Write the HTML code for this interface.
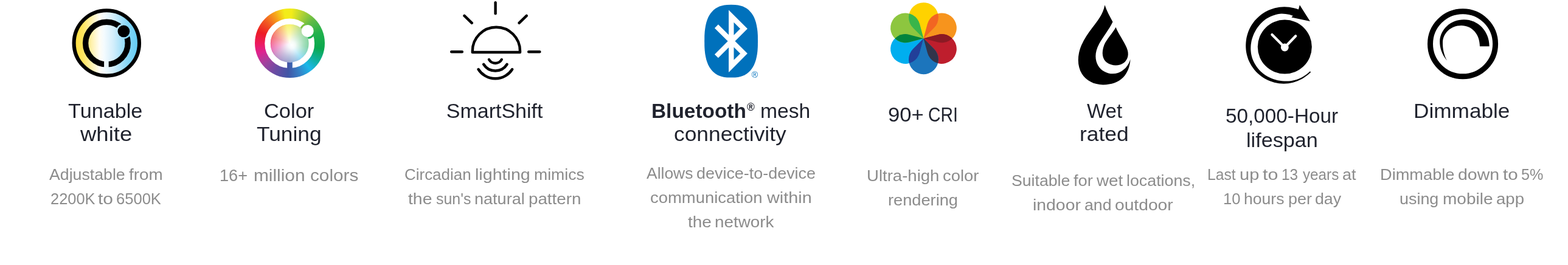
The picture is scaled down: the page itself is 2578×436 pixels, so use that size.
<!DOCTYPE html>
<html lang="en"><head><meta charset="utf-8"><title>Features</title><style>

html,body{margin:0;padding:0;background:#fff;}
body{width:2578px;height:436px;position:relative;overflow:hidden;font-family:"Liberation Sans",sans-serif;}
svg{position:absolute;left:0;top:0;}
main{position:absolute;left:0;top:0;width:2578px;height:436px;will-change:transform;}
section,h3,p,.ic{margin:0;padding:0;font-weight:400;font-size:0;line-height:0;}
.ln{position:absolute;left:0;display:block;white-space:nowrap;font-size:0;line-height:0;}
.l{display:inline-block;white-space:nowrap;line-height:1;transform-origin:0 0;font-weight:400;vertical-align:baseline;}
.t{font-size:34px;color:#1f222d;}
.d{font-size:26px;color:#8c8c8c;}

</style></head><body>
<div id="wheel" style="position:absolute;left:419px;top:13.6px;width:114.5px;height:114.5px;border-radius:50%;background:conic-gradient(from 0deg,#f3ec19 0deg,#f3ec19 3deg,#b4d334 22deg,#62bb46 45deg,#22b14c 70deg,#0aa84f 100deg,#0fb09a 122deg,#1ab7ea 142deg,#3681c6 162deg,#4156a6 183deg,#6b4ca3 208deg,#a4419d 232deg,#dd2390 252deg,#ec1b62 268deg,#ed1c24 290deg,#f15a22 312deg,#f7a11a 332deg,#f3ec19 350deg,#f3ec19 360deg);"></div>
<div id="wheelin" style="position:absolute;left:444.7px;top:39.9px;width:63px;height:63px;border-radius:50%;background:radial-gradient(circle at 55% 54%,rgba(255,255,255,1) 0%,rgba(255,255,255,0.95) 12%,rgba(255,255,255,0.64) 40%,rgba(255,255,255,0.36) 72%,rgba(255,255,255,0.1) 100%),conic-gradient(from 0deg,#f3ec19 0deg,#f3ec19 3deg,#b4d334 22deg,#62bb46 45deg,#22b14c 70deg,#0aa84f 100deg,#0fb09a 122deg,#1ab7ea 142deg,#3681c6 162deg,#4156a6 183deg,#6b4ca3 208deg,#a4419d 232deg,#dd2390 252deg,#ec1b62 268deg,#ed1c24 290deg,#f15a22 312deg,#f7a11a 332deg,#f3ec19 350deg,#f3ec19 360deg);"></div>
<svg width="2578" height="436" viewBox="0 0 2578 436">
<defs>
<linearGradient id="tw" x1="121" x2="230" y1="0" y2="0" gradientUnits="userSpaceOnUse">
 <stop offset="0" stop-color="#ffdd3c"/><stop offset="0.14" stop-color="#ffe55e"/><stop offset="0.39" stop-color="#fffdf4"/><stop offset="0.46" stop-color="#f4fbfe"/><stop offset="0.6" stop-color="#d3eefb"/><stop offset="0.8" stop-color="#8ad8f7"/><stop offset="1" stop-color="#5ac9f4"/>
</linearGradient>
<mask id="m1" maskUnits="userSpaceOnUse" x="100" y="0" width="150" height="140">
 <rect x="100" y="0" width="150" height="140" fill="#fff"/>
 <rect x="171.1" y="95" width="7.6" height="20" fill="#000"/>
 <circle cx="203.4" cy="51.4" r="12.5" fill="#000"/>
</mask>
<mask id="m2" maskUnits="userSpaceOnUse" x="400" y="0" width="150" height="140">
 <rect x="400" y="0" width="150" height="140" fill="#fff"/>
 <rect x="472.1" y="98" width="8.7" height="20" fill="#000"/>
 <circle cx="505.7" cy="50.9" r="13.1" fill="#000"/>
</mask>
<clipPath id="p0"><path d="M1518.45 63.20L1501.15 45.81A24.4 24.4 0 1 1 1535.75 45.81Z"/></clipPath>
<clipPath id="p1"><path d="M1518.45 63.20L1524.86 39.52A24.4 24.4 0 1 1 1542.16 69.49Z"/></clipPath>
<clipPath id="p2"><path d="M1518.45 63.20L1542.16 56.91A24.4 24.4 0 1 1 1524.86 86.88Z"/></clipPath>
<clipPath id="p3"><path d="M1518.45 63.20L1535.75 80.59A24.4 24.4 0 1 1 1501.15 80.59Z"/></clipPath>
<clipPath id="p4"><path d="M1518.45 63.20L1512.04 86.88A24.4 24.4 0 1 1 1494.74 56.91Z"/></clipPath>
<clipPath id="p5"><path d="M1518.45 63.20L1494.74 69.49A24.4 24.4 0 1 1 1512.04 39.52Z"/></clipPath>
</defs>
<!-- icon 1: tunable white -->
<g id="i1">
<circle cx="175.3" cy="70.9" r="53.7" fill="url(#tw)" stroke="#000" stroke-width="6.1"/>
<circle cx="175.4" cy="71.1" r="34.8" fill="none" stroke="#000" stroke-width="9.4" mask="url(#m1)"/>
<circle cx="203.4" cy="51.4" r="9.9" fill="#000"/>
</g>
<!-- icon 2: color tuning -->
<g id="i2">
<circle cx="476.2" cy="71.4" r="36.15" fill="none" stroke="#fff" stroke-width="9.5" mask="url(#m2)"/>
<circle cx="505.7" cy="50.9" r="10" fill="#fff"/>
</g>
<!-- icon 3: smartshift -->
<g id="i3" fill="none" stroke="#000" stroke-width="4.4" stroke-linecap="round" stroke-linejoin="round">
<path d="M814.6 4.2V22.3"/>
<path d="M763.45 25.95L775.8 37.8"/>
<path d="M865.8 25.95L853.45 37.8"/>
<path d="M742.2 85.3H759.8"/>
<path d="M869.2 85.3H887.3"/>
<path d="M776.8 86V84A39.1 39.25 0 0 1 855 84V86Z"/>
<path d="M804 98A12 12 0 0 0 824.75 98"/>
<path d="M795.1 105.75A22.7 22.7 0 0 0 833.65 105.75"/>
<path d="M786.5 114A33 33 0 0 0 842.2 114"/>
</g>
<!-- icon 4: bluetooth -->
<g id="i4">
<path d="M1246.0 67.7L1245.9 76.9L1245.5 83.3L1244.8 88.9L1243.9 93.9L1242.8 98.6L1241.4 102.8L1239.8 106.8L1237.9 110.3L1235.7 113.6L1233.3 116.5L1230.7 119.1L1227.9 121.3L1224.7 123.2L1221.3 124.8L1217.6 126.0L1213.5 126.9L1208.8 127.4L1202.1 127.6L1195.4 127.4L1190.7 126.9L1186.6 126.0L1182.9 124.8L1179.5 123.2L1176.3 121.3L1173.5 119.1L1170.9 116.5L1168.5 113.6L1166.3 110.3L1164.4 106.8L1162.8 102.8L1161.4 98.6L1160.3 93.9L1159.4 88.9L1158.7 83.3L1158.3 76.9L1158.2 67.7L1158.3 58.5L1158.7 52.1L1159.4 46.5L1160.3 41.5L1161.4 36.8L1162.8 32.6L1164.4 28.6L1166.3 25.1L1168.5 21.8L1170.9 18.9L1173.5 16.3L1176.3 14.1L1179.5 12.2L1182.9 10.6L1186.6 9.4L1190.7 8.5L1195.4 8.0L1202.1 7.8L1208.8 8.0L1213.5 8.5L1217.6 9.4L1221.3 10.6L1224.7 12.2L1227.9 14.1L1230.7 16.3L1233.3 18.9L1235.7 21.8L1237.9 25.1L1239.8 28.6L1241.4 32.6L1242.8 36.8L1243.9 41.5L1244.8 46.5L1245.5 52.1L1245.9 58.5Z" fill="#0071bc"/>
<path d="M1177.9 43.2L1223 88.1L1202.3 108.8V26.6L1223 47.3L1177.9 92.4" fill="none" stroke="#fff" stroke-width="8.4" stroke-linejoin="miter" stroke-miterlimit="6"/>
</g>
<!-- icon 5: CRI flower -->
<g id="i5">
<path d="M1518.45 63.20L1501.15 45.81A24.4 24.4 0 1 1 1535.75 45.81Z" fill="#ffd200"/>
<path d="M1518.45 63.20L1524.86 39.52A24.4 24.4 0 1 1 1542.16 69.49Z" fill="#f7941d"/>
<path d="M1518.45 63.20L1542.16 56.91A24.4 24.4 0 1 1 1524.86 86.88Z" fill="#be1e2d"/>
<path d="M1518.45 63.20L1535.75 80.59A24.4 24.4 0 1 1 1501.15 80.59Z" fill="#1c75bc"/>
<path d="M1518.45 63.20L1512.04 86.88A24.4 24.4 0 1 1 1494.74 56.91Z" fill="#00aeef"/>
<path d="M1518.45 63.20L1494.74 69.49A24.4 24.4 0 1 1 1512.04 39.52Z" fill="#8dc63f"/>
<path d="M1518.45 63.20L1501.15 45.81A24.4 24.4 0 1 1 1535.75 45.81Z" fill="#f26522" clip-path="url(#p1)"/>
<path d="M1518.45 63.20L1524.86 39.52A24.4 24.4 0 1 1 1542.16 69.49Z" fill="#8b1a24" clip-path="url(#p2)"/>
<path d="M1518.45 63.20L1542.16 56.91A24.4 24.4 0 1 1 1524.86 86.88Z" fill="#33344a" clip-path="url(#p3)"/>
<path d="M1518.45 63.20L1535.75 80.59A24.4 24.4 0 1 1 1501.15 80.59Z" fill="#223f99" clip-path="url(#p4)"/>
<path d="M1518.45 63.20L1512.04 86.88A24.4 24.4 0 1 1 1494.74 56.91Z" fill="#00843d" clip-path="url(#p5)"/>
<path d="M1518.45 63.20L1494.74 69.49A24.4 24.4 0 1 1 1512.04 39.52Z" fill="#39b54a" clip-path="url(#p0)"/>
</g>
<!-- icon 6: drop -->
<g id="i6">
<path d="M1816.4 8.3C1813.5 24 1804 35 1795.8 45.8C1787 57.5 1777 72 1774 87.1C1771.3 100 1773 112 1778.8 121.6C1786 133 1799 139.6 1814 139.4C1827 139.3 1838.5 135.5 1846.5 127.5C1853.5 120.5 1857.8 109.5 1858.5 97.5C1855.5 108 1848 116.5 1838 120C1826 124 1812 119 1805.5 108C1800 98.5 1799.5 86 1807.2 71.9C1813 61.5 1823.5 48.5 1829.5 36C1824.5 27 1819.5 17.5 1816.4 8.3Z" fill="#000"/>
<path d="M1834.5 44.7C1838.5 55 1848 68 1852.4 78.4C1857 89 1854.5 98 1847.5 103.5C1840 109 1828 108.8 1820 103C1812.5 97.5 1810.5 87 1815.4 74C1819.5 64 1829.5 54.5 1834.5 44.7Z" fill="#000"/>
</g>
<!-- icon 7: clock -->
<g id="i7">
<circle cx="2112.3" cy="77.1" r="44.5" fill="#000"/>
<path d="M2134.9 15.5L2131.2 14.2L2127.3 13.2L2123.5 12.4L2119.6 11.8L2115.6 11.4L2111.7 11.3L2107.7 11.4L2103.8 11.8L2099.9 12.4L2096.0 13.3L2092.2 14.4L2088.5 15.7L2084.8 17.3L2081.3 19.1L2077.9 21.1L2074.6 23.3L2071.4 25.8L2068.4 28.4L2065.6 31.2L2062.9 34.1L2060.5 37.3L2058.2 40.5L2056.1 44.0L2054.3 47.5L2052.7 51.2L2051.4 54.9L2050.3 58.7L2049.4 62.6L2048.8 66.5L2048.4 70.5L2048.2 74.5L2048.3 78.5L2048.6 82.4L2049.2 86.4L2050.0 90.3L2051.1 94.1L2052.4 97.9L2054.0 101.5L2055.8 105.1L2057.8 108.5L2060.1 111.8L2062.5 114.9L2065.1 117.9L2067.9 120.7L2070.9 123.3L2074.0 125.7L2077.3 127.9L2080.7 129.9L2084.2 131.7L2087.8 133.3L2091.5 134.6L2095.2 135.7L2099.0 136.6L2102.9 137.2L2106.8 137.6L2110.7 137.7L2114.6 137.6L2118.5 137.2L2122.3 136.6L2126.0 135.7L2129.7 134.6L2133.4 133.2L2136.9 131.6L2140.3 129.9L2143.5 127.9L2146.7 125.8L2149.8 123.5L2152.7 121.1L2155.4 118.4L2153.6 117.4L2151.0 119.9L2148.2 122.2L2145.3 124.3L2142.3 126.2L2139.1 128.0L2135.8 129.5L2132.5 130.7L2129.0 131.8L2125.5 132.6L2122.0 133.2L2118.4 133.5L2114.9 133.6L2111.3 133.5L2107.8 133.2L2104.3 132.8L2100.8 132.2L2097.4 131.3L2094.0 130.3L2090.7 129.1L2087.4 127.6L2084.3 126.0L2081.3 124.2L2078.4 122.2L2075.6 120.0L2073.0 117.7L2070.5 115.2L2068.2 112.5L2066.1 109.7L2064.2 106.8L2062.4 103.8L2060.9 100.7L2059.5 97.5L2058.4 94.2L2057.5 90.8L2056.9 87.4L2056.5 84.0L2056.3 80.6L2056.4 77.1L2056.6 73.8L2057.1 70.4L2057.7 67.1L2058.5 63.9L2059.6 60.7L2060.8 57.6L2062.1 54.6L2063.6 51.7L2065.2 48.8L2067.0 46.1L2068.9 43.4L2070.9 40.9L2073.1 38.5L2075.4 36.2L2077.9 34.1L2080.4 32.1L2083.1 30.3L2085.9 28.7L2088.8 27.2L2091.8 26.0L2094.8 24.9L2097.9 24.0L2101.0 23.3L2104.2 22.8L2107.4 22.6L2110.6 22.7L2113.8 23.0L2116.9 23.5L2120.0 24.1L2123.0 24.9L2125.9 26.0L2123.2 28.6L2153.9 35.0L2136.9 8.2Z" fill="#000"/>
<path d="M2091.4 57L2112.3 78L2130.2 59.3" fill="none" stroke="#fff" stroke-width="4.2" stroke-linecap="round" stroke-linejoin="round"/>
<circle cx="2112.3" cy="78" r="6.4" fill="#fff"/>
</g>
<!-- icon 8: dimmable -->
<g id="i8">
<circle cx="2405.05" cy="72.2" r="53.55" fill="none" stroke="#000" stroke-width="9"/>
<path d="M2379 99.8C2371 90 2367 79 2367.2 68C2368 48 2385 32.2 2407 32.2C2430 32.2 2448.7 51 2448.7 76.2H2433C2433 56 2420 42 2402.5 42C2385 42 2372 55 2372 70.4C2372 81 2374 90 2379 99.8Z" fill="#000"/>
</g>
</svg>

<main>
<section>
<h3><span class="ln" style="top:165px;"><span class="l t" style="margin-left:112.25px;transform:scaleX(1.0063);">Tunable</span></span> <span class="ln" style="top:203px;"><span class="l t" style="margin-left:132.00px;transform:scaleX(1.0740);">white</span></span></h3>
<p><span class="ln" style="top:274px;"><span class="l d" style="margin-left:81.00px;transform:scaleX(1.0270);">Adjustable</span> <span class="l d" style="margin-left:9.31px;transform:scaleX(1.0720);">from</span></span> <span class="ln" style="top:314px;"><span class="l d" style="margin-left:82.63px;transform:scaleX(0.9776);">2200K</span> <span class="l d" style="margin-left:3.51px;transform:scaleX(1.1500);">to</span> <span class="l d" style="margin-left:8.41px;transform:scaleX(0.9830);">6500K</span></span></p>
</section>
<section>
<h3><span class="ln" style="top:165px;"><span class="l t" style="margin-left:433.73px;transform:scaleX(1.0127);">Color</span></span> <span class="ln" style="top:203px;"><span class="l t" style="margin-left:422.22px;transform:scaleX(1.0376);">Tuning</span></span></h3>
<p><span class="ln" style="top:276px;"><span class="l" style="margin-left:361.39px;transform:scaleX(1.0071);font-size:27px;color:#8c8c8c;">16+</span> <span class="l" style="margin-left:9.47px;transform:scaleX(1.1041);font-size:27px;color:#8c8c8c;">million</span> <span class="l" style="margin-left:16.32px;transform:scaleX(1.1011);font-size:27px;color:#8c8c8c;">colors</span></span></p>
</section>
<section>
<h3><span class="ln" style="top:165px;"><span class="l t" style="margin-left:733.75px;transform:scaleX(1.0000);">SmartShift</span></span></h3>
<p><span class="ln" style="top:274px;"><span class="l d" style="margin-left:665.35px;transform:scaleX(0.9981);">Circadian</span> <span class="l d" style="margin-left:5.89px;transform:scaleX(1.1013);">lighting</span> <span class="l d" style="margin-left:14.73px;transform:scaleX(1.0249);">mimics</span></span> <span class="ln" style="top:314px;"><span class="l d" style="margin-left:671.46px;transform:scaleX(1.0899);">the</span> <span class="l d" style="margin-left:9.47px;transform:scaleX(0.9597);">sun's</span> <span class="l d" style="margin-left:3.31px;transform:scaleX(1.0408);">natural</span> <span class="l d" style="margin-left:9.55px;transform:scaleX(1.0671);">pattern</span></span></p>
</section>
<section>
<div class="ic"><span class="ln" style="top:116.1px;"><span class="l" style="margin-left:1235.85px;transform:scaleX(1.0000);font-size:14.1px;color:#0071bc;">®</span></span></div>
<h3><span class="ln" style="top:165px;"><span class="l t" style="margin-left:1070.54px;transform:scaleX(0.9825);font-weight:700;">Bluetooth</span><span class="l" style="margin-left:-1.53px;transform:scaleX(0.9920);font-size:17.5px;color:#1f222d;vertical-align:12.4px;font-weight:700;">®</span> <span class="l t" style="margin-left:9.71px;transform:scaleX(0.9905);">mesh</span></span> <span class="ln" style="top:203px;"><span class="l t" style="margin-left:1108.44px;transform:scaleX(1.0398);">connectivity</span></span></h3>
<p><span class="ln" style="top:272px;"><span class="l d" style="margin-left:1063.00px;transform:scaleX(1.0168);">Allows</span> <span class="l d" style="margin-left:6.92px;transform:scaleX(1.0355);">device-to-device</span></span> <span class="ln" style="top:312px;"><span class="l d" style="margin-left:1069.35px;transform:scaleX(1.0546);">communication</span> <span class="l d" style="margin-left:16.35px;transform:scaleX(1.1097);">within</span></span> <span class="ln" style="top:352px;"><span class="l d" style="margin-left:1130.96px;transform:scaleX(1.0739);">the</span> <span class="l d" style="margin-left:8.21px;transform:scaleX(1.0700);">network</span></span></p>
</section>
<section>
<h3><span class="ln" style="top:171px;"><span class="l t" style="margin-left:1459.77px;transform:scaleX(1.0202);">90+</span> <span class="l t" style="margin-left:8.28px;transform:scaleX(0.8353);">CRI</span></span></h3>
<p><span class="ln" style="top:276px;"><span class="l d" style="margin-left:1425.48px;transform:scaleX(1.0596);">Ultra-high</span> <span class="l d" style="margin-left:11.65px;transform:scaleX(1.0527);">color</span></span> <span class="ln" style="top:316px;"><span class="l d" style="margin-left:1459.77px;transform:scaleX(1.0469);">rendering</span></span></p>
</section>
<section>
<h3><span class="ln" style="top:165px;"><span class="l t" style="margin-left:1786.51px;transform:scaleX(0.9705);">Wet</span></span> <span class="ln" style="top:203px;"><span class="l t" style="margin-left:1775.16px;transform:scaleX(1.0411);">rated</span></span></h3>
<p><span class="ln" style="top:284px;"><span class="l d" style="margin-left:1663.02px;transform:scaleX(1.0251);">Suitable</span> <span class="l d" style="margin-left:8.05px;transform:scaleX(1.0521);">for</span> <span class="l d" style="margin-left:8.02px;transform:scaleX(1.0658);">wet</span> <span class="l d" style="margin-left:8.13px;transform:scaleX(1.0307);">locations,</span></span> <span class="ln" style="top:324px;"><span class="l d" style="margin-left:1697.79px;transform:scaleX(1.0914);">indoor</span> <span class="l d" style="margin-left:12.50px;transform:scaleX(1.0258);">and</span> <span class="l d" style="margin-left:6.85px;transform:scaleX(1.0847);">outdoor</span></span></p>
</section>
<section>
<h3><span class="ln" style="top:173px;"><span class="l t" style="margin-left:2014.93px;transform:scaleX(0.9791);">50,000-Hour</span></span> <span class="ln" style="top:213px;"><span class="l t" style="margin-left:2048.64px;transform:scaleX(1.0058);">lifespan</span></span></h3>
<p><span class="ln" style="top:274px;"><span class="l d" style="margin-left:1985.15px;transform:scaleX(0.9479);">Last</span> <span class="l d" style="margin-left:3.54px;transform:scaleX(1.1154);">up</span> <span class="l d" style="margin-left:8.80px;transform:scaleX(1.1675);">to</span> <span class="l d" style="margin-left:10.07px;transform:scaleX(0.9359);">13</span> <span class="l d" style="margin-left:5.65px;transform:scaleX(0.9323);">years</span> <span class="l d" style="margin-left:1.38px;transform:scaleX(1.0390);">at</span></span> <span class="ln" style="top:314px;"><span class="l d" style="margin-left:2011.33px;transform:scaleX(0.9846);">10</span> <span class="l d" style="margin-left:4.76px;transform:scaleX(1.0224);">hours</span> <span class="l d" style="margin-left:7.53px;transform:scaleX(1.0338);">per</span> <span class="l d" style="margin-left:7.00px;transform:scaleX(1.0282);">day</span></span></p>
</section>
<section>
<h3><span class="ln" style="top:165px;"><span class="l t" style="margin-left:2324.15px;transform:scaleX(1.0353);">Dimmable</span></span></h3>
<p><span class="ln" style="top:274px;"><span class="l d" style="margin-left:2269.21px;transform:scaleX(1.0465);">Dimmable</span> <span class="l d" style="margin-left:10.86px;transform:scaleX(1.0975);">down</span> <span class="l d" style="margin-left:11.77px;transform:scaleX(1.1400);">to</span> <span class="l d" style="margin-left:8.31px;transform:scaleX(0.9706);">5%</span></span> <span class="ln" style="top:314px;"><span class="l d" style="margin-left:2301.49px;transform:scaleX(1.0349);">using</span> <span class="l d" style="margin-left:8.17px;transform:scaleX(1.0766);">mobile</span> <span class="l d" style="margin-left:11.13px;transform:scaleX(1.0594);">app</span></span></p>
</section>
</main>
</body></html>
